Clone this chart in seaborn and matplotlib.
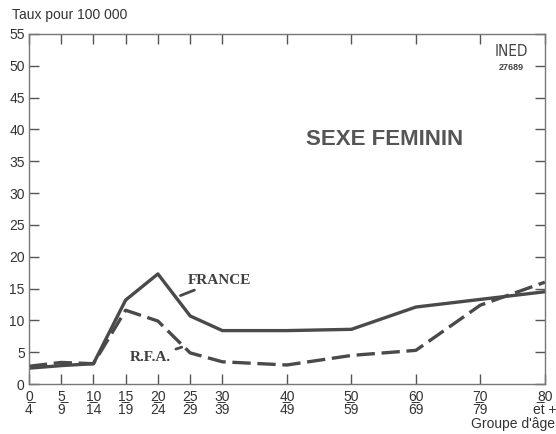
import numpy as np
import pandas as pd
import seaborn as sns
import matplotlib
matplotlib.use('Agg')
import matplotlib.pyplot as plt

sns.set_style("ticks")
plt.rcParams['font.family'] = ['Liberation Sans', 'DejaVu Sans']

# data
ages = [0, 5, 10, 15, 20, 25, 30, 40, 50, 60, 70, 80]
age_labels = ["0\n4̅", "5\n9̅", "10\n1̅4", "15\n1̅9", "20\n2̅4", "25\n2̅9", "30\n3̅9",
              "40\n4̅9", "50\n5̅9", "60\n6̅9", "70\n7̅9", "80\ne̅t +"]
france = [2.5, 2.9, 3.2, 13.2, 17.3, 10.7, 8.4, 8.4, 8.6, 12.1, 13.3, 14.5]
rfa = [2.8, 3.4, 3.2, 11.6, 9.9, 4.9, 3.5, 3.0, 4.5, 5.3, 12.4, 16.0]
y_ticks = list(range(0, 60, 5))

df = pd.DataFrame({
    "age": ages * 2,
    "taux": france + rfa,
    "pays": ["FRANCE"] * len(ages) + ["R.F.A."] * len(ages),
})

line_col = "#4a4a4a"
fig = plt.figure(figsize=(5.56, 4.34), dpi=100)
ax = fig.add_axes([0.052, 0.115, 0.928, 0.807])

sns.lineplot(data=df, x="age", y="taux", style="pays",
             dashes={"FRANCE": "", "R.F.A.": (5.5, 2)},
             color=line_col, linewidth=2.4, legend=False, ax=ax)

ax.set_xlim(0, 80)
ax.set_ylim(0, 55)
ax.set_xticks(ages)
ax.set_xticklabels(age_labels, linespacing=0.95)
ax.set_yticks(y_ticks)
ax.set_xlabel("")
ax.set_ylabel("")
for s in ax.spines.values():
    s.set_visible(True)
    s.set_color("#777777")
    s.set_linewidth(1.0)
ax.tick_params(axis="both", direction="in", length=7, width=1.0, color="#555555",
               labelsize=10, labelcolor="#333333")
ax.tick_params(axis="y", right=True, pad=3)
ax.tick_params(axis="x", top=True, pad=4)

fig.text(0.021, 0.965, "Taux pour 100 000", fontsize=10, color="#333333", va="center")
fig.text(0.999, 0.022, "Groupe d'âge", fontsize=10, color="#333333", ha="right", va="center")

ax.text(0.69, 0.697, "SEXE FEMININ", transform=ax.transAxes, fontsize=16,
        fontweight="bold", color="#555555", ha="center", va="center")
ax.text(0.935, 0.95, "INED", transform=ax.transAxes, fontsize=11, color="#444444",
        ha="center", va="center", family="DejaVu Sans", fontstretch="condensed",
        fontweight="light")
ax.text(0.935, 0.905, "27689", transform=ax.transAxes, fontsize=6.5, fontweight="bold",
        color="#444444", ha="center", va="center")

ax.annotate("FRANCE", xy=(23.5, 13.9), xytext=(24.6, 16.3), fontsize=11,
            fontweight="bold", family="Liberation Serif", color="#404040",
            va="center", ha="left",
            arrowprops=dict(arrowstyle="-", color=line_col, lw=2, shrinkA=0, shrinkB=0))
ax.annotate("R.F.A.", xy=(23.7, 5.8), xytext=(15.7, 4.2), fontsize=11,
            fontweight="bold", family="Liberation Serif", color="#404040",
            va="center", ha="left",
            arrowprops=dict(arrowstyle="-", color=line_col, lw=2, shrinkA=1, shrinkB=0))

fig.savefig("out.png", dpi=100)
plt.close("all")
